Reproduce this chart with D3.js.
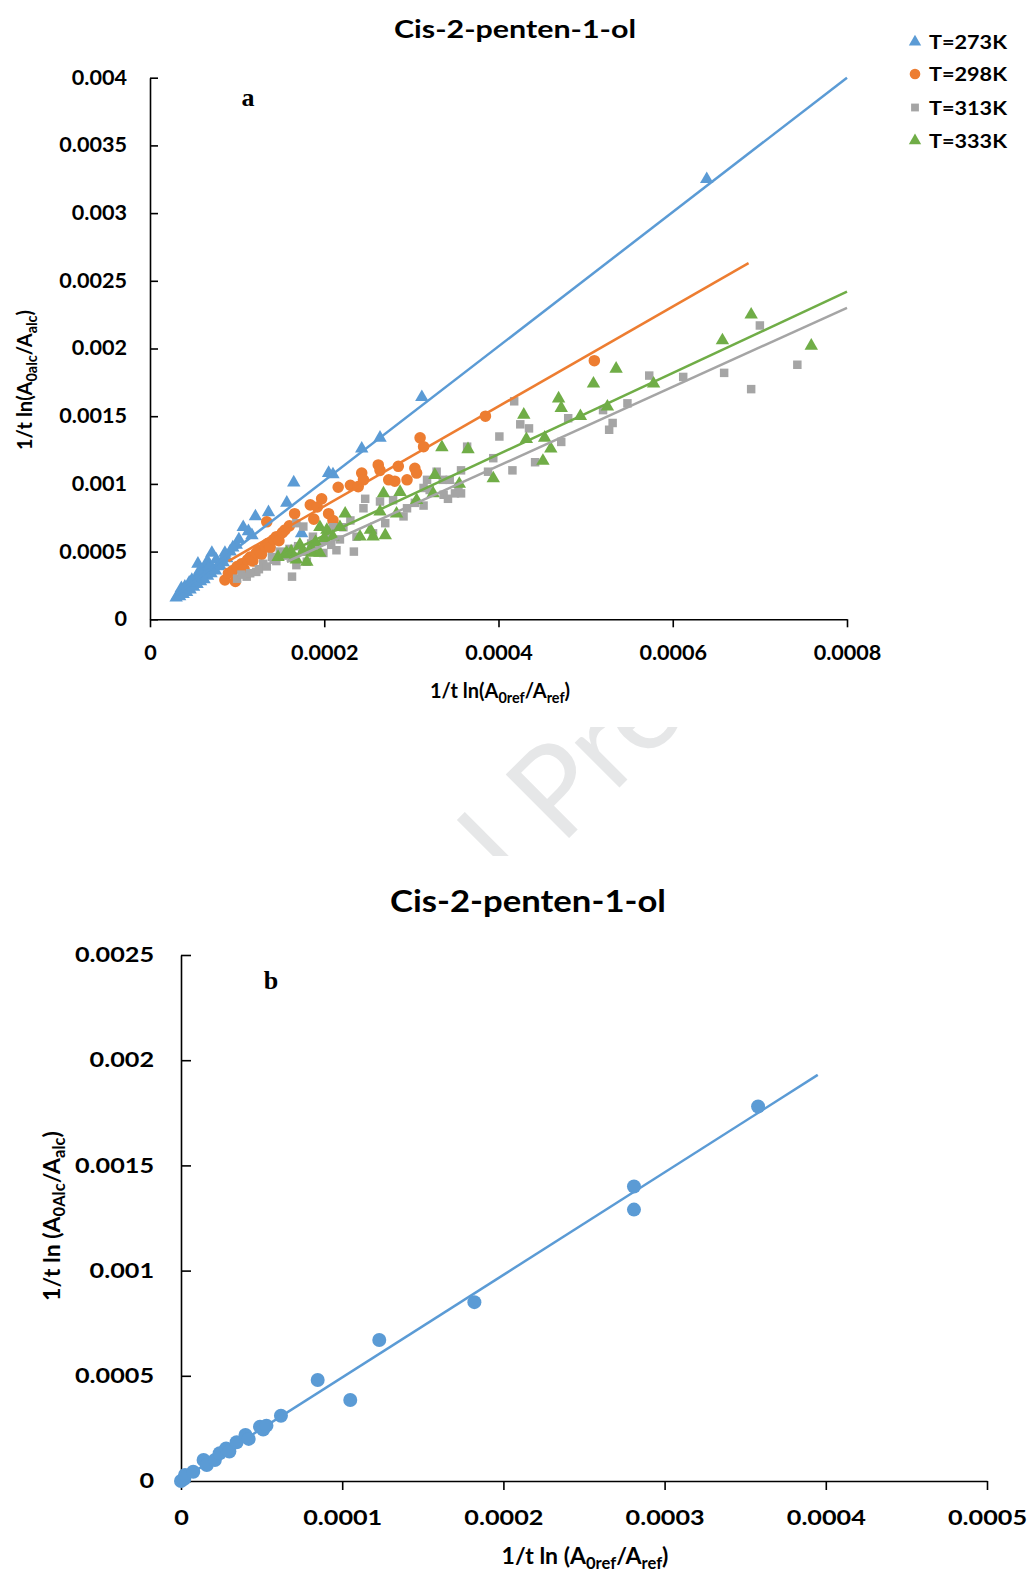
<!DOCTYPE html>
<html>
<head>
<meta charset="utf-8">
<script src="https://cdn.jsdelivr.net/npm/d3@7"></script>
<style>
  body { margin: 0; background: #fff; }
  svg { display: block; }
  text { font-family: Lato, "Open Sans", sans-serif; font-weight: bold; fill: #000; }
</style>
</head>
<body>
<svg id="fig" width="1033" height="1575"></svg>
<script>
// all values in units of 1e-4
var t273 = [[0.30,1.6],[0.32,1.75],[0.34,1.7],[0.36,1.9],[0.38,1.85],[0.40,2.1],[0.42,2.0],[0.44,2.3],[0.46,2.2],[0.48,2.5],
  [0.50,2.4],[0.52,2.7],[0.54,2.6],[0.56,2.9],[0.58,2.8],[0.60,3.1],[0.62,2.95],[0.64,3.3],[0.66,3.2],[0.68,3.5],
  [0.70,3.4],[0.72,3.7],[0.75,3.6],[0.78,3.9],[0.80,4.0],[0.84,4.2],[0.88,4.5],[0.36,2.3],[0.45,2.7],[0.52,3.0],
  [0.58,3.4],[0.62,3.7],[0.66,4.3],[0.55,4.1],[0.71,4.9],[0.82,4.25],[0.92,5.0],[0.99,5.5],[1.07,6.8],[1.13,6.5],
  [1.17,6.2],[1.21,7.6],[1.36,7.9],[1.57,8.6],[1.65,10.1],[1.74,6.35],[2.05,10.8],[2.10,10.7],[2.43,12.6],[2.64,13.4],
  [3.12,16.4],[6.39,32.5],[0.40,2.4],[0.48,2.9],[0.57,3.6],[0.68,3.9],[0.76,4.4],[0.86,4.9],[0.95,5.3],[1.02,5.9]]
var t298 = [[0.86,2.9],[0.98,2.8],[0.90,3.4],[0.95,3.6],[1.00,3.9],[1.05,4.1],[1.08,3.7],[1.12,4.4],[1.15,4.6],[1.18,4.3],
  [1.22,4.9],[1.25,5.1],[1.28,4.8],[1.32,5.4],[1.35,5.6],[1.38,5.3],[1.42,5.9],[1.45,6.1],[1.48,5.8],[1.52,6.4],
  [1.55,6.6],[1.60,6.9],[1.34,7.2],[1.66,7.8],[1.88,7.4],[1.84,8.45],[1.92,8.3],[1.97,8.9],[2.05,7.8],[2.10,7.3],
  [2.16,9.75],[2.30,9.9],[2.39,9.8],[2.43,10.8],[2.45,10.3],[2.62,11.4],[2.64,11.0],[2.74,10.3],[2.81,10.2],[2.85,11.3],
  [2.95,10.3],[3.04,11.15],[3.06,10.8],[3.10,13.4],[3.14,12.75],[3.85,15.0],[5.10,19.1]]
var t313 = [[1.00,3.0],[1.05,3.3],[1.11,3.15],[1.15,3.4],[1.22,3.5],[1.25,3.7],[1.30,4.1],[1.34,3.9],[1.40,4.6],[1.42,4.4],
  [1.45,4.3],[1.49,5.0],[1.55,4.7],[1.60,5.2],[1.63,3.15],[1.68,4.0],[1.70,5.4],[1.75,5.0],[1.80,4.25],[1.85,5.6],
  [1.90,5.2],[1.99,4.9],[2.00,5.8],[2.08,5.5],[2.14,5.1],[1.68,7.1],[1.76,6.85],[1.87,6.1],[2.03,6.35],[2.10,6.8],
  [2.18,5.9],[2.22,6.8],[2.30,7.3],[2.34,5.0],[2.37,6.1],[2.45,8.2],[2.47,8.9],[2.56,6.35],[2.64,8.7],[2.70,7.1],
  [2.79,8.8],[2.91,7.6],[2.95,8.2],[3.04,8.6],[3.14,8.4],[3.14,9.7],[3.18,10.3],[3.21,9.55],[3.29,10.9],[3.37,9.2],
  [3.36,10.3],[3.42,8.9],[3.44,10.3],[3.50,9.3],[3.54,9.8],[3.57,9.3],[3.57,11.0],[3.64,12.75],[3.88,10.9],[3.94,11.9],
  [4.01,13.5],[4.16,11.0],[4.18,16.1],[4.25,14.4],[4.35,14.1],[4.42,11.6],[4.72,13.1],[4.80,14.85],[5.20,15.45],[5.27,14.0],
  [5.31,14.5],[5.48,15.95],[5.73,18.0],[6.12,17.9],[6.59,18.2],[6.90,17.0],[7.00,21.7],[7.43,18.8]]
var t333 = [[1.47,4.6],[1.55,4.8],[1.57,4.9],[1.62,5.0],[1.65,4.5],[1.68,4.4],[1.72,5.5],[1.75,5.0],[1.80,4.25],[1.85,5.3],
  [1.87,4.9],[1.90,5.7],[1.95,4.9],[1.95,6.8],[2.00,6.0],[2.03,6.6],[2.10,6.1],[2.18,6.8],[2.24,7.8],[2.41,6.1],
  [2.53,6.6],[2.56,6.1],[2.64,7.95],[2.68,9.3],[2.70,6.2],[2.83,7.8],[2.87,9.4],[3.06,8.8],[3.25,9.3],[3.27,10.65],
  [3.35,12.7],[3.55,10.0],[3.65,12.55],[3.94,10.4],[4.29,15.1],[4.32,13.3],[4.51,11.7],[4.53,13.4],[4.60,12.6],[4.69,16.3],
  [4.72,15.6],[4.94,15.0],[5.09,17.4],[5.25,15.7],[5.35,18.5],[5.78,17.4],[6.57,20.6],[6.90,22.5],[7.59,20.2]]

var fit273 = [[0.30,1.8],[8.0,40.0]]
var fit298 = [[0.90,4.3],[6.87,26.3]]
var fit313 = [[1.57,4.25],[8.0,23.0]]
var fit333 = [[1.47,4.6],[8.0,24.2]]

var seriesNames = ["T=273K", "T=298K", "T=313K", "T=333K"]
var seriesColors = ["#5b9bd5", "#ed7d31", "#a5a5a5", "#70ad47"]

var xTicksA = [0, 2, 4, 6, 8]
var xLabelsA = ["0", "0.0002", "0.0004", "0.0006", "0.0008"]
var yTicksA = [0, 5, 10, 15, 20, 25, 30, 35, 40]
var yLabelsA = ["0", "0.0005", "0.001", "0.0015", "0.002", "0.0025", "0.003", "0.0035", "0.004"]

var ptsB = [[0.0,0.0],[0.02,0.1],[0.025,0.29],[0.076,0.44],[0.14,1.0],[0.16,0.76],[0.21,1.0],[0.24,1.32],[0.28,1.55],
  [0.30,1.4],[0.345,1.84],[0.40,2.19],[0.42,2.0],[0.49,2.58],[0.51,2.45],[0.53,2.63],[0.62,3.1],[0.848,4.8],[1.05,3.85],
  [1.23,6.7],[1.82,8.5],[2.81,14.0],[2.81,12.9],[3.58,17.8]]
var fitB = [[0.0,0.05],[3.95,19.3]]

var xTicksB = [0, 1, 2, 3, 4, 5]
var xLabelsB = ["0", "0.0001", "0.0002", "0.0003", "0.0004", "0.0005"]
var yTicksB = [0, 5, 10, 15, 20, 25]
var yLabelsB = ["0", "0.0005", "0.001", "0.0015", "0.002", "0.0025"]

var svg = d3.select("#fig")

// watermark, only visible in the gap between the two panels
svg.append("defs").append("clipPath").attr("id", "wm")
  .append("rect").attr("x", 0).attr("y", 727).attr("width", 1033).attr("height", 129)
var wm = svg.append("g").attr("clip-path", "url(#wm)")
  .append("g").attr("transform", "translate(561,846) rotate(-45)")
  .style("font-family", "'Liberation Sans', Arial, sans-serif")
wm.append("text").attr("x", -35).attr("text-anchor", "end").text("Journal")
  .style("font-weight", "normal").style("font-size", "125px").style("fill", "#e6e7e8")
wm.append("text").attr("x", 0).text("Pre-proof")
  .style("font-weight", "normal").style("font-size", "125px").style("fill", "#e6e7e8")

function stretch(sel, k) {
  sel.each(function() {
    var L = this.getComputedTextLength()
    d3.select(this).attr("textLength", L * k).attr("lengthAdjust", "spacingAndGlyphs")
  })
}

function richText(sel, parts, shift) {
  var down = false
  parts.forEach(function(p) {
    var ts = sel.append("tspan").text(p[0])
    if (p[1]) {
      ts.style("font-size", "0.72em")
      if (!down) ts.attr("dy", shift)
      down = true
    } else if (down) {
      ts.attr("dy", -shift)
      down = false
    }
  })
}

function axes(g, x, y, o) {
  var xa = g.append("g")
    .attr("transform", "translate(0," + y.range()[0] + ")")
    .call(d3.axisBottom(x).tickValues(o.xTicks)
      .tickFormat(function(d, i) { return o.xLabels[i] })
      .tickSizeInner(o.xTickLen).tickSizeOuter(0).tickPadding(o.xPad))
  var ya = g.append("g")
    .attr("transform", "translate(" + x.range()[0] + ",0)")
    .call(d3.axisLeft(y).tickValues(o.yTicks)
      .tickFormat(function(d, i) { return o.yLabels[i] })
      .tickSizeInner(-o.yTickLen).tickSizeOuter(0).tickPadding(o.yPad))
  ;[xa, ya].forEach(function(a) {
    a.attr("font-family", null).attr("font-size", null)
    a.selectAll("path, line").attr("stroke", "#000").attr("stroke-width", 1.6)
    a.selectAll("text").style("font-size", o.fontSize + "px")
    stretch(a.selectAll("text"), o.stretch)
  })
}

// ---------- panel a ----------
var xA = d3.scaleLinear().domain([0, 8]).range([150, 847])
var yA = d3.scaleLinear().domain([0, 40]).range([619.3, 77.7])
var gA = svg.append("g")

gA.append("text").attr("x", 515).attr("y", 38).attr("text-anchor", "middle")
  .style("font-size", "25px").attr("textLength", 242).attr("lengthAdjust", "spacingAndGlyphs")
  .text("Cis-2-penten-1-ol")

axes(gA, xA, yA, {
  xTicks: xTicksA, xLabels: xLabelsA, yTicks: yTicksA, yLabels: yLabelsA,
  xTickLen: 8, yTickLen: 8, xPad: 19, yPad: 23, fontSize: 20, stretch: 1.08
})

var shapes = [d3.symbolTriangle, d3.symbolCircle, d3.symbolSquare, d3.symbolTriangle]
var sizes = [78, 105, 72, 78]
var dataA = [t273, t298, t313, t333]
var fitsA = [fit273, fit298, fit313, fit333]

dataA.forEach(function(pts, i) {
  gA.append("g").selectAll("path")
    .data(pts)
    .enter()
    .append("path")
    .attr("transform", function(d) { return "translate(" + xA(d[0]) + "," + yA(d[1]) + ")" })
    .attr("d", d3.symbol().type(shapes[i]).size(sizes[i]))
    .attr("fill", seriesColors[i])
})

var lineA = d3.line()
  .x(function(d) { return xA(d[0]) })
  .y(function(d) { return yA(d[1]) })
fitsA.forEach(function(f, i) {
  gA.append("path").attr("d", lineA(f))
    .attr("fill", "none").attr("stroke", seriesColors[i]).attr("stroke-width", 2.5)
})

gA.append("text").attr("x", 248).attr("y", 106).attr("text-anchor", "middle")
  .style("font-family", "'Liberation Serif', 'Times New Roman', serif").style("font-size", "26px")
  .text("a")

var legend = gA.append("g")
seriesNames.forEach(function(name, i) {
  var cy = [42, 74, 107.5, 140.7][i]
  legend.append("path")
    .attr("transform", "translate(915," + cy + ")")
    .attr("d", d3.symbol().type(shapes[i]).size(sizes[i] * 0.85))
    .attr("fill", seriesColors[i])
  legend.append("text").attr("x", 929).attr("y", cy + 7)
    .style("font-size", "19px").attr("textLength", 78).attr("lengthAdjust", "spacingAndGlyphs")
    .text(name)
})

var xlabA = gA.append("text").attr("x", 500).attr("y", 698).attr("text-anchor", "middle")
  .style("font-size", "20px")
richText(xlabA, [["1/t ln(A"], ["0ref", 1], ["/A"], ["ref", 1], [")"]], 5)

var ylabA = gA.append("text").attr("transform", "translate(32,380) rotate(-90)")
  .attr("text-anchor", "middle").style("font-size", "20px")
richText(ylabA, [["1/t ln(A"], ["0alc", 1], ["/A"], ["alc", 1], [")"]], 5)

// ---------- panel b ----------
var xB = d3.scaleLinear().domain([0, 5]).range([181, 987])
var yB = d3.scaleLinear().domain([0, 25]).range([1481, 955])
var gB = svg.append("g")

gB.append("text").attr("x", 528).attr("y", 912).attr("text-anchor", "middle")
  .style("font-size", "30px").attr("textLength", 276).attr("lengthAdjust", "spacingAndGlyphs")
  .text("Cis-2-penten-1-ol")

axes(gB, xB, yB, {
  xTicks: xTicksB, xLabels: xLabelsB, yTicks: yTicksB, yLabels: yLabelsB,
  xTickLen: 9, yTickLen: 10, xPad: 20, yPad: 27, fontSize: 21, stretch: 1.2
})

gB.append("path")
  .attr("d", d3.line()
    .x(function(d) { return xB(d[0]) })
    .y(function(d) { return yB(d[1]) })(fitB))
  .attr("fill", "none").attr("stroke", "#5b9bd5").attr("stroke-width", 2.5)

gB.append("g").selectAll("circle")
  .data(ptsB)
  .enter()
  .append("circle")
  .attr("cx", function(d) { return xB(d[0]) })
  .attr("cy", function(d) { return yB(d[1]) })
  .attr("r", 7)
  .attr("fill", "#5b9bd5")

gB.append("text").attr("x", 271).attr("y", 989).attr("text-anchor", "middle")
  .style("font-family", "'Liberation Serif', 'Times New Roman', serif").style("font-size", "26px")
  .text("b")

var xlabB = gB.append("text").attr("x", 585).attr("y", 1564).attr("text-anchor", "middle")
  .style("font-size", "23px")
richText(xlabB, [["1/t ln (A"], ["0ref", 1], ["/A"], ["ref", 1], [")"]], 5)

var ylabB = gB.append("text").attr("transform", "translate(60,1216) rotate(-90)")
  .attr("text-anchor", "middle").style("font-size", "23px")
richText(ylabB, [["1/t ln (A"], ["0Alc", 1], ["/A"], ["alc", 1], [")"]], 5)
</script>
</body>
</html>
